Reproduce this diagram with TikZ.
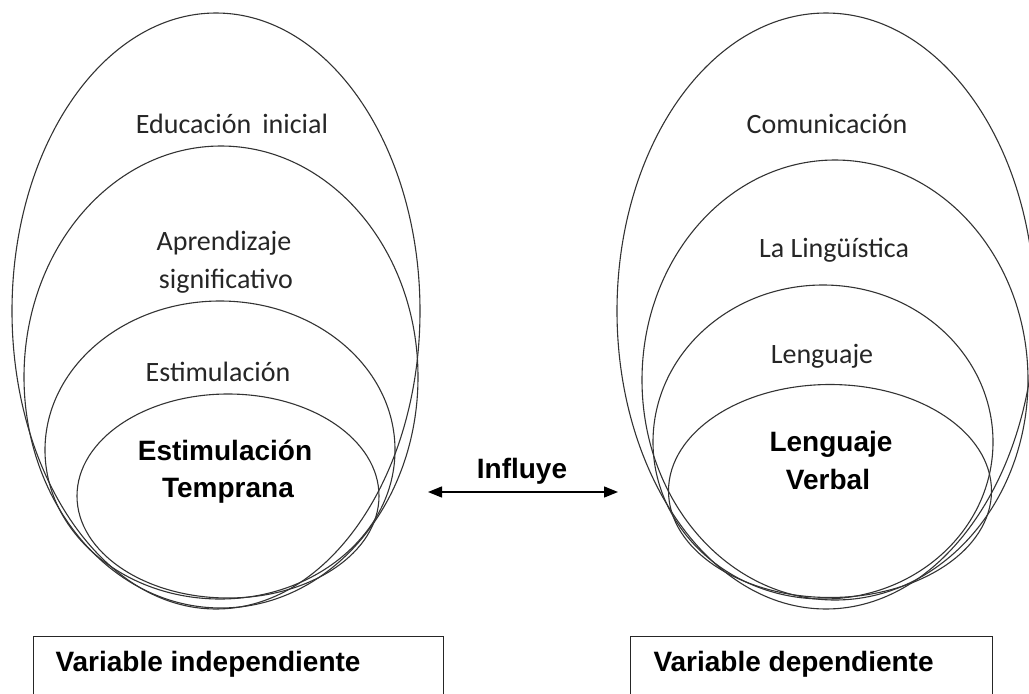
\documentclass[tikz,border=0pt]{standalone}
\usepackage{fontspec}
\setmainfont{Carlito}
\newfontfamily\boldfont{Liberation Sans}
\usetikzlibrary{shapes.geometric, arrows.meta, positioning}
\tikzset{
x=1pt, y=-1pt, % pixel-like coordinates, y grows downwards
capa/.style={draw=black!80, ellipse, line width=1.1pt, inner sep=0pt}, % one nested ellipse
tema/.style={font=\fontsize{28}{33}\selectfont, anchor=base, text=black!85}, % plain label
clave/.style={font=\boldfont\bfseries\fontsize{28}{34}\selectfont, anchor=base}, % bold label
caja/.style={draw=black!85, line width=1.1pt, anchor=north west, inner sep=0pt},
flecha/.style={{Triangle[length=14pt,width=11pt]}-{Triangle[length=14pt,width=11pt]}, line width=1.4pt},
}
\begin{document}
\begin{tikzpicture}
\useasboundingbox (0,0) rectangle (1029,694);

% left side: independent variable
\node[capa, minimum width=408pt, minimum height=596pt] (educ) at (216,311) {};
\node[capa, minimum width=394pt, minimum height=462pt] (apre) at (221,377) {};
\node[capa, minimum width=350pt, minimum height=298pt] (esti) at (220,450) {};
\node[capa, minimum width=302pt, minimum height=204pt] (temp) at (228,496) {};

\node[tema] (t-educ) at (232,133) {Educación\, inicial};
\node[tema] (t-apre1) at (224,250) {Aprendizaje};
\node[tema] (t-apre2) at (226,288) {significativo};
\node[tema] (t-esti) at (218,381) {Estimulación};
\node[clave] (t-temp1) at (225,460) {Estimulación};
\node[clave] (t-temp2) at (228,497) {Temprana};

% right side: dependent variable
\node[capa, minimum width=418pt, minimum height=596pt] (comu) at (826,311) {};
\node[capa, minimum width=386pt, minimum height=440pt] (ling) at (835,380) {};
\node[capa, minimum width=340pt, minimum height=314pt] (leng) at (823,442) {};
\node[capa, minimum width=323pt, minimum height=213pt] (verb) at (830,491) {};

\node[tema] (t-comu) at (827,133) {Comunicación};
\node[tema] (t-ling) at (834,257) {La Lingüística};
\node[tema] (t-leng) at (822,363) {Lenguaje};
\node[clave] (t-verb1) at (831,451) {Lenguaje};
\node[clave] (t-verb2) at (828,489) {Verbal};

% relation between both
\coordinate (izq) at (428,492);
\coordinate (der) at (618,492);
\draw[flecha] (izq) -- (der);
\node[clave] (influye) at (522,478) {Influye};

% variable boxes
\node[caja, minimum width=410pt, minimum height=80pt] (vind) at (33,636) {};
\node[caja, minimum width=362pt, minimum height=80pt] (vdep) at (630,636) {};
\node[clave, anchor=base west] (t-vind) at (52,671) {Variable independiente};
\node[clave, anchor=base west] (t-vdep) at (650,671) {Variable dependiente};
\end{tikzpicture}
\end{document}
